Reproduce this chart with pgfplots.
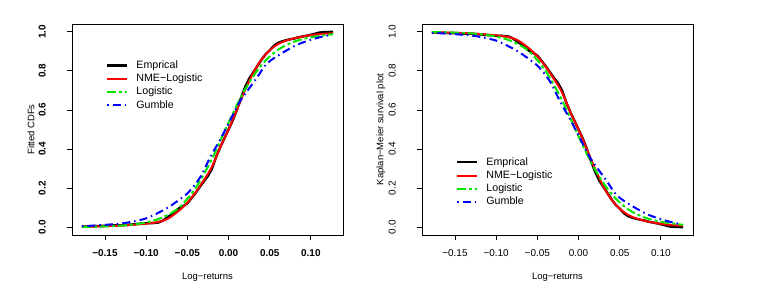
\documentclass[border=0pt]{standalone}
\usepackage{fontspec}
\setmainfont{Liberation Sans}
\usepackage{graphicx}
\usepackage{pgfplots}
\pgfplotsset{compat=1.18}
\definecolor{rgreen}{RGB}{0,230,0}
\definecolor{rblue}{RGB}{0,0,255}
\definecolor{rred}{RGB}{255,0,0}
\newcommand{\ry}[1]{\rotatebox{90}{#1}}
\pgfplotsset{
  rbase/.style={
    scale only axis, width=271bp, height=211bp,
    xmin=-0.19, xmax=0.139, ymin=-0.04, ymax=1.04,
    axis line style={line width=0.9bp},
    tick align=outside, xtick pos=left, ytick pos=left,
    tick style={black, line width=0.8bp},
    major tick length=5bp,
    xtick={-0.15,-0.1,-0.05,0,0.05,0.1},
    xticklabels={−0.15,−0.10,−0.05,0.00,0.05,0.10},
    ytick={0,0.2,0.4,0.6,0.8,1},
    yticklabels={\ry{0.0},\ry{0.2},\ry{0.4},\ry{0.6},\ry{0.8},\ry{1.0}},
    xticklabel style={anchor=center, yshift=-13bp},
    yticklabel style={anchor=east, inner sep=0pt, xshift=-21bp},
    every axis x label/.style={font=\fontsize{9.5}{10}\selectfont, at={(rel axis cs:0.5,0)}, anchor=center, yshift=-42bp},
    every axis y label/.style={font=\fontsize{9.5}{10}\selectfont, at={(rel axis cs:0,0.5)}, xshift=-41bp, rotate=90, anchor=center},
    legend image code/.code={\draw[#1] (0bp,0bp) -- (20bp,0bp);},
    legend cell align=left,
    legend style={draw=none, fill=none, font=\fontsize{10.7}{11}\selectfont,
      row sep=3.6bp, column sep=0bp, inner sep=0pt, outer sep=0pt,
      nodes={inner sep=0pt, text height=7.7bp, text depth=2bp},
      anchor=north west},
    legend columns=1,
  },
  emp/.style={black, line width=2.4bp, no markers},
  nme/.style={rred, line width=2bp, smooth, no markers},
  lgs/.style={rgreen, line width=2bp, dash pattern=on 9bp off 3bp on 3bp off 3bp, no markers},
  gum/.style={rblue, line width=2bp, dash pattern=on 1.5bp off 4bp on 8bp off 4bp, no markers},
}
\begin{document}
\begin{tikzpicture}[x=1bp,y=1bp]
\useasboundingbox (0,0) rectangle (771,289);
% ---------------- left: CDFs ----------------
\begin{axis}[rbase, at={(72bp,54bp)}, anchor=south west,
  ticklabel style={font=\bfseries\fontsize{10}{11}\selectfont},
  xlabel={Log−returns}, ylabel={Fitted CDFs},
  legend style={at={(0.1255,0.8265)}, column sep=8bp}]
\addplot[emp] coordinates {
(-0.178,0.003) (-0.170,0.004) (-0.160,0.006) (-0.150,0.007) (-0.140,0.009) (-0.130,0.010)
(-0.120,0.013) (-0.110,0.017) (-0.100,0.020) (-0.092,0.021) (-0.085,0.024) (-0.080,0.033)
(-0.075,0.048) (-0.070,0.062) (-0.065,0.080) (-0.060,0.097) (-0.055,0.108) (-0.050,0.122)
(-0.045,0.148) (-0.040,0.175) (-0.035,0.205) (-0.030,0.235) (-0.025,0.262) (-0.020,0.300)
(-0.015,0.360) (-0.010,0.410) (-0.005,0.455) (0.000,0.500) (0.005,0.545) (0.010,0.598)
(0.015,0.660) (0.020,0.715) (0.025,0.760) (0.030,0.792) (0.035,0.825) (0.040,0.857)
(0.045,0.885) (0.050,0.905) (0.055,0.928) (0.060,0.943) (0.065,0.951) (0.070,0.957)
(0.075,0.962) (0.080,0.966) (0.085,0.972) (0.090,0.976) (0.095,0.980) (0.100,0.985)
(0.105,0.990) (0.110,0.996) (0.115,0.998) (0.127,1.000)};
\addlegendentry{Emprical}
\addplot[nme] coordinates {
(-0.178,0.002) (-0.15,0.005) (-0.125,0.010) (-0.10,0.018) (-0.085,0.027) (-0.073,0.045)
(-0.06,0.085) (-0.05,0.125) (-0.04,0.178) (-0.03,0.240) (-0.02,0.310) (-0.01,0.410)
(0,0.500) (0.01,0.600) (0.02,0.700) (0.03,0.790) (0.04,0.858) (0.05,0.905) (0.06,0.937)
(0.07,0.955) (0.08,0.967) (0.09,0.976) (0.10,0.983) (0.11,0.988) (0.127,0.993)};
\addlegendentry{NME−Logistic}
\addplot[lgs, smooth] coordinates {
(-0.178,0.001) (-0.15,0.004) (-0.125,0.010) (-0.10,0.024) (-0.08,0.050) (-0.06,0.100)
(-0.04,0.200) (-0.02,0.350) (0,0.535) (0.02,0.705) (0.04,0.830) (0.06,0.908)
(0.08,0.950) (0.10,0.972) (0.127,0.988)};
\addlegendentry{Logistic}
\addplot[gum, smooth] coordinates {
(-0.178,0.005) (-0.15,0.012) (-0.125,0.022) (-0.10,0.045) (-0.08,0.085) (-0.069,0.113)
(-0.06,0.140) (-0.048,0.181) (-0.034,0.258) (-0.022,0.360) (-0.0104,0.446) (0,0.530)
(0.0138,0.643) (0.034,0.762) (0.045,0.830) (0.058,0.873) (0.083,0.933) (0.107,0.968)
(0.125,0.985)};
\addlegendentry{Gumble}
\end{axis}
% ---------------- right: survival ----------------
\begin{axis}[rbase, at={(422bp,54bp)}, anchor=south west,
  ticklabel style={font=\fontsize{10}{11}\selectfont},
  xlabel={Log−returns}, ylabel={Kaplan−Meier survival plot},
  legend style={at={(0.1255,0.368)}, column sep=8bp}]
\addplot[emp] coordinates {
(-0.178,0.997) (-0.170,0.996) (-0.160,0.994) (-0.150,0.993) (-0.140,0.991) (-0.130,0.990)
(-0.120,0.987) (-0.110,0.983) (-0.100,0.980) (-0.092,0.979) (-0.085,0.976) (-0.080,0.967)
(-0.075,0.952) (-0.070,0.938) (-0.065,0.920) (-0.060,0.903) (-0.055,0.892) (-0.050,0.878)
(-0.045,0.852) (-0.040,0.825) (-0.035,0.795) (-0.030,0.765) (-0.025,0.738) (-0.020,0.700)
(-0.015,0.640) (-0.010,0.590) (-0.005,0.545) (0.000,0.500) (0.005,0.455) (0.010,0.402)
(0.015,0.340) (0.020,0.285) (0.025,0.240) (0.030,0.208) (0.035,0.175) (0.040,0.143)
(0.045,0.115) (0.050,0.095) (0.055,0.072) (0.060,0.057) (0.065,0.049) (0.070,0.043)
(0.075,0.038) (0.080,0.034) (0.085,0.028) (0.090,0.024) (0.095,0.020) (0.100,0.015)
(0.105,0.010) (0.110,0.004) (0.115,0.002) (0.127,0.000)};
\addlegendentry{Emprical}
\addplot[nme] coordinates {
(-0.178,0.998) (-0.15,0.995) (-0.125,0.990) (-0.10,0.982) (-0.085,0.973) (-0.073,0.955)
(-0.06,0.915) (-0.05,0.875) (-0.04,0.822) (-0.03,0.760) (-0.02,0.690) (-0.01,0.590)
(0,0.500) (0.01,0.400) (0.02,0.300) (0.03,0.210) (0.04,0.142) (0.05,0.095) (0.06,0.063)
(0.07,0.045) (0.08,0.033) (0.09,0.024) (0.10,0.017) (0.11,0.012) (0.127,0.007)};
\addlegendentry{NME−Logistic}
\addplot[lgs, smooth] coordinates {
(-0.178,0.999) (-0.15,0.996) (-0.125,0.990) (-0.10,0.976) (-0.08,0.950) (-0.06,0.900)
(-0.04,0.800) (-0.02,0.650) (0,0.465) (0.02,0.295) (0.04,0.170) (0.06,0.092)
(0.08,0.050) (0.10,0.028) (0.127,0.012)};
\addlegendentry{Logistic}
\addplot[gum, smooth] coordinates {
(-0.178,0.995) (-0.15,0.988) (-0.125,0.978) (-0.10,0.955) (-0.08,0.915) (-0.069,0.887)
(-0.06,0.860) (-0.048,0.819) (-0.034,0.742) (-0.022,0.640) (-0.0104,0.554) (0,0.470)
(0.0138,0.357) (0.034,0.238) (0.045,0.170) (0.058,0.127) (0.083,0.067) (0.107,0.032)
(0.125,0.015)};
\addlegendentry{Gumble}
\end{axis}
\end{tikzpicture}
\end{document}
